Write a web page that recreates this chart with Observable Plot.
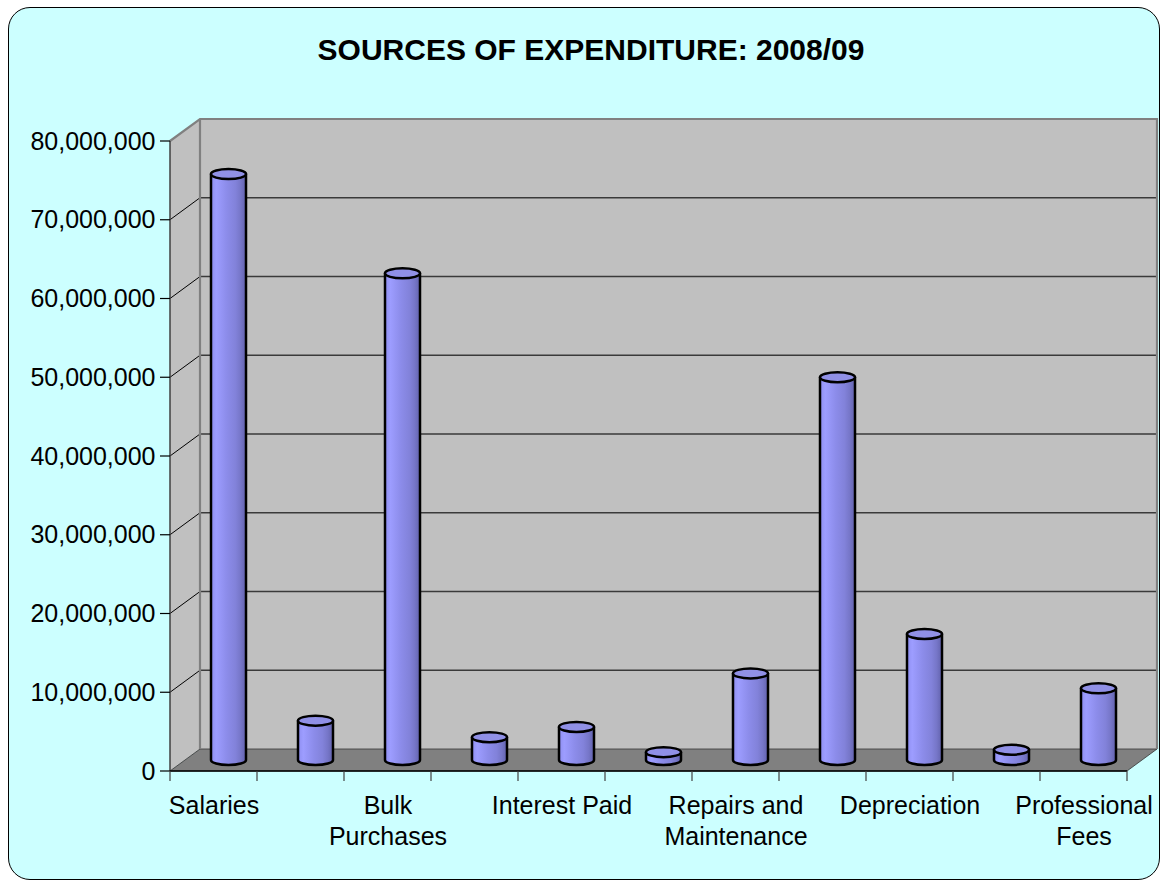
<!DOCTYPE html>
<html>
<head>
<meta charset="utf-8">
<script src="https://cdn.jsdelivr.net/npm/d3@7"></script>
<script src="https://cdn.jsdelivr.net/npm/@observablehq/plot@0.6"></script>
<style>
  html, body { margin: 0; padding: 0; background: #ffffff; }
  body { width: 1168px; height: 882px; position: relative; overflow: hidden; font-family: "Liberation Sans", Arial, sans-serif; }
  #box { position: absolute; left: 8px; top: 7px; width: 1150px; height: 871px; border: 1.5px solid #000; border-radius: 22px; background: #CCFFFF; }
  #title { position: absolute; left: 591px; top: 35px; transform: translateX(-50%); font-weight: bold; font-size: 30px; line-height: 30px; white-space: nowrap; color: #000; }
  #chart { position: absolute; left: 0; top: 90px; }
</style>
</head>
<body>
<div id="box"></div>
<div id="title">SOURCES OF EXPENDITURE: 2008/09</div>
<div id="chart"></div>
<script>
// ---- data ----
const categories = ["Salaries", "(unlabelled 2)", "Bulk Purchases", "(unlabelled 4)", "Interest Paid", "(unlabelled 6)", "Repairs and Maintenance", "(unlabelled 8)", "Depreciation", "(unlabelled 10)", "Professional Fees"];
const values = [74.4e6, 5.0e6, 61.8e6, 2.9e6, 4.2e6, 1.0e6, 11.0e6, 48.6e6, 16.0e6, 1.3e6, 9.1e6];
const tickLabels = ["Salaries", "", "Bulk\nPurchases", "", "Interest Paid", "", "Repairs and\nMaintenance", "", "Depreciation", "", "Professional\nFees"];
const yTicks = [0, 10e6, 20e6, 30e6, 40e6, 50e6, 60e6, 70e6, 80e6];

const rows = categories.map((c, i) => ({i, category: c, value: values[i], label: tickLabels[i]}));

// depth of the 3D box, in pixels
const DEPTH = {dx: 30, dy: -22};

function scene(index, scales, channels, dimensions) {
  const x = scales.x, y = scales.y;
  const n = categories.length;
  const g = d3.create("svg:g");
  const defs = g.append("defs");
  const grad = defs.append("linearGradient").attr("id", "cylGrad").attr("x1", "0").attr("x2", "1").attr("y1", "0").attr("y2", "0");
  [[0, "#8E8EF0"], [0.15, "#9D9DFF"], [0.45, "#8C8CEA"], [0.7, "#8282DA"], [0.85, "#7676C8"], [1, "#6262AC"]]
    .forEach(([o, c]) => grad.append("stop").attr("offset", o).attr("stop-color", c));

  const x0 = x(0), x1 = x(n), yb = y(0), yt = y(yTicks[yTicks.length - 1]);
  const dx = DEPTH.dx, dy = DEPTH.dy;

  // left wall
  g.append("path")
    .attr("d", `M${x0},${yb}L${x0},${yt}L${x0 + dx},${yt + dy}L${x0 + dx},${yb + dy}Z`)
    .attr("fill", "#C0C0C0");
  // back wall
  g.append("rect")
    .attr("x", x0 + dx).attr("y", yt + dy).attr("width", x1 - x0).attr("height", yb - yt)
    .attr("fill", "#C0C0C0");
  // floor
  g.append("path")
    .attr("d", `M${x0},${yb}L${x1},${yb}L${x1 + dx},${yb + dy}L${x0 + dx},${yb + dy}Z`)
    .attr("fill", "#808080").attr("stroke", "#333").attr("stroke-width", 0.8);

  // gridlines
  yTicks.slice(1, -1).forEach(t => {
    const yy = y(t);
    g.append("line").attr("x1", x0 + dx).attr("x2", x1 + dx).attr("y1", yy + dy).attr("y2", yy + dy)
      .attr("stroke", "#3a3a3a").attr("stroke-width", 1.4);
    g.append("line").attr("x1", x0).attr("x2", x0 + dx).attr("y1", yy).attr("y2", yy + dy)
      .attr("stroke", "#000").attr("stroke-width", 1);
  });

  // wall edges
  g.append("path")
    .attr("d", `M${x0},${yt}L${x0 + dx},${yt + dy}L${x1 + dx},${yt + dy}L${x1 + dx},${yb + dy}`)
    .attr("fill", "none").attr("stroke", "#808080").attr("stroke-width", 2.2);
  g.append("line").attr("x1", x0 + dx).attr("x2", x0 + dx).attr("y1", yt + dy).attr("y2", yb + dy)
    .attr("stroke", "#808080").attr("stroke-width", 2.2);

  // axes
  g.append("line").attr("x1", x0).attr("x2", x0).attr("y1", yt).attr("y2", yb).attr("stroke", "#404040").attr("stroke-width", 1.5);
  g.append("line").attr("x1", x0).attr("x2", x1).attr("y1", yb).attr("y2", yb).attr("stroke", "#000").attr("stroke-width", 1.5);
  yTicks.forEach(t => {
    g.append("line").attr("x1", x0 - 10).attr("x2", x0).attr("y1", y(t)).attr("y2", y(t)).attr("stroke", "#000").attr("stroke-width", 1.2);
  });
  d3.range(n + 1).forEach(k => {
    g.append("line").attr("x1", x(k)).attr("x2", x(k)).attr("y1", yb).attr("y2", yb + 10).attr("stroke", "#404040").attr("stroke-width", 1.2);
  });

  // cylinders at mid depth
  const rx = 17.5, ry = 5;
  rows.forEach(d => {
    const cx = x(d.i + 0.5) + dx / 2;
    const top = y(d.value) + dy / 2;
    const bot = y(0) + dy / 2;
    g.append("path")
      .attr("d", `M${cx - rx},${top}L${cx - rx},${bot}A${rx},${ry} 0 0 0 ${cx + rx},${bot}L${cx + rx},${top}Z`)
      .attr("fill", "url(#cylGrad)").attr("stroke", "#000").attr("stroke-width", 2.5).attr("stroke-linejoin", "round");
    g.append("ellipse")
      .attr("cx", cx).attr("cy", top).attr("rx", rx).attr("ry", ry)
      .attr("fill", "#9090E6").attr("stroke", "#000").attr("stroke-width", 2.5);
  });
  return g.node();
}

const chart = Plot.plot({
  width: 1168,
  height: 792,
  marginLeft: 170,
  marginRight: 41,
  marginTop: 51,
  marginBottom: 111,
  style: {background: "transparent", overflow: "visible", fontFamily: "'Liberation Sans', Arial, sans-serif", fontSize: "25px", color: "#000"},
  x: {type: "linear", domain: [0, categories.length], axis: null},
  y: {domain: [0, 80e6], axis: null},
  marks: [
    scene,
    Plot.text(yTicks, {x: 0, y: d => d, text: d => d3.format(",")(d), textAnchor: "end", dx: -15, fontSize: 25, fill: "#000"}),
    Plot.text(rows, {x: d => d.i + 0.5, y: 0, text: "label", lineAnchor: "top", lineHeight: 1.22, dy: 21, fontSize: 25, fill: "#000"})
  ]
});
document.getElementById("chart").appendChild(chart);
</script>
</body>
</html>
